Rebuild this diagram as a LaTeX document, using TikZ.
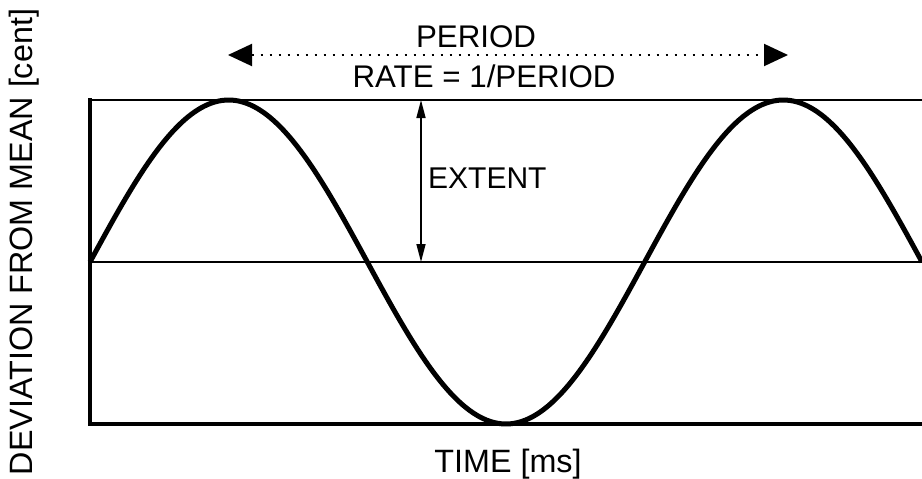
\documentclass[tikz,border=0pt]{standalone}
\usepackage{fontspec}
\setmainfont{Liberation Sans}
\usetikzlibrary{arrows.meta}
\tikzset{
  lbl/.style={inner sep=0pt, font=\fontsize{30}{36}\selectfont},
  biglbl/.style={inner sep=0pt, font=\fontsize{32.3}{38}\selectfont},
  toplbl/.style={inner sep=0pt, font=\fontsize{31.3}{37}\selectfont},
  axisline/.style={line width=4pt, line cap=rect},
  guide/.style={line width=2pt},
  wave/.style={line width=5pt, line join=round},
  periodarrow/.style={line width=2pt, dash pattern=on 2.5pt off 6.5pt,
    {Triangle[length=24pt,width=22pt]}-{Triangle[length=24pt,width=22pt]}},
  extarrow/.style={line width=1.5pt,
    {Triangle[length=18pt,width=9pt]}-{Triangle[length=18pt,width=9pt]}}
}
\begin{document}
\begin{tikzpicture}[x=1pt,y=-1pt]
\useasboundingbox (0,0) rectangle (922,479);
% key points
\coordinate (tl) at (90,100);
\coordinate (tr) at (922,100);
\coordinate (ml) at (90,262);
\coordinate (mr) at (922,262);
\coordinate (bl) at (90,424);
\coordinate (br) at (922,424);
\coordinate (pl) at (228,55);
\coordinate (pr) at (788,55);
\coordinate (et) at (421,100);
\coordinate (eb) at (421,262);
% guide lines
\draw[guide] (tl) -- (tr);
\draw[guide] (ml) -- (mr);
% axes
\draw[axisline] (tl) -- (bl) -- (br);
% wave
\draw[wave] plot[domain=90:922, samples=240, smooth] (\x, {262-162*sin((\x-90)*0.64904)});
% extent arrow
\draw[extarrow] (et) -- (eb);
\node[lbl, anchor=base west] (extent) at (428,188) {EXTENT};
% period arrow
\draw[periodarrow] (pl) -- (pr);
\node[toplbl, anchor=base] (period) at (476,47) {PERIOD};
\node[toplbl, anchor=base] (rate) at (484,87) {RATE = 1/PERIOD};
% axis labels
\node[biglbl, anchor=base] (xlab) at (508,472) {TIME [ms]};
\node[biglbl, anchor=base, rotate=90] (ylab) at (32,242) {DEVIATION FROM MEAN [cent]};
\end{tikzpicture}
\end{document}
